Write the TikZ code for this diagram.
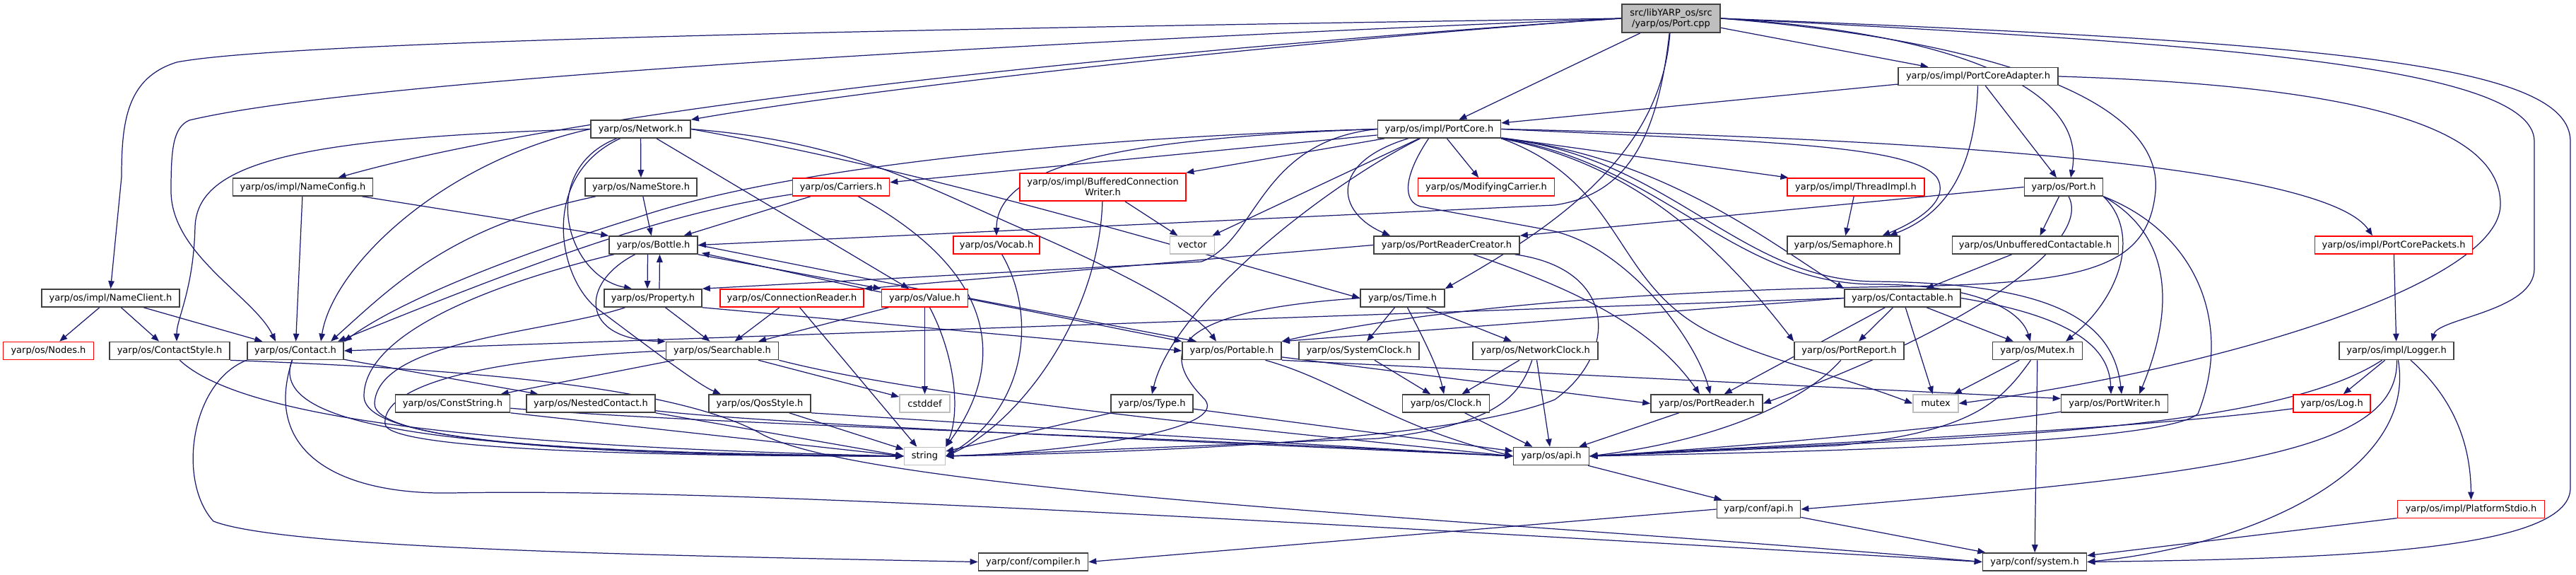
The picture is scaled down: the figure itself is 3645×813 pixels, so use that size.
\documentclass[tikz,border=0pt]{standalone}
\usepackage{fontspec}
\setmainfont{DejaVu Sans}
\usetikzlibrary{arrows.meta}

\definecolor{edgeblue}{HTML}{191970}
\definecolor{hdrgray}{HTML}{BFBFBF}

\pgfdeclarelayer{bg}
\pgfsetlayers{bg,main}

\tikzset{
  hdr/.style={draw=black!75, fill=white, line width=0.45pt, minimum height=0.25cm,
              inner sep=0pt, align=center, font=\fontsize{3.7}{4.3}\selectfont},
  trunc/.style={hdr, draw=red},
  syshdr/.style={hdr, draw=hdrgray},
  dep/.style={draw=edgeblue, line width=0.35pt, -{Triangle[length=0.11cm,width=0.085cm]}},
}

\begin{document}
\begin{tikzpicture}[x=0.01cm, y=-0.01cm]
    \useasboundingbox (0,0) rectangle (3645,813);

    % Fichier source
    \node[hdr, fill=hdrgray, minimum width=1.39cm, minimum height=0.40cm] (cpp) at (2364.5,26) {src/libYARP\_os/src\\/yarp/os/Port.cpp};

    % Rangs 1-2
    \node[hdr, minimum width=2.26cm] (pca) at (2799,108) {yarp/os/impl/PortCoreAdapter.h};
    \node[hdr, minimum width=1.41cm] (network) at (906.5,182.5) {yarp/os/Network.h};
    \node[hdr, minimum width=1.74cm] (pcore) at (2036.5,182.5) {yarp/os/impl/PortCore.h};

    % Rang 3
    \node[hdr, minimum width=1.98cm] (nconfig) at (428.5,264.5) {yarp/os/impl/NameConfig.h};
    \node[hdr, minimum width=1.58cm] (nstore) at (907,264.5) {yarp/os/NameStore.h};
    \node[trunc, minimum width=1.37cm] (carriers) at (1190,264.5) {yarp/os/Carriers.h};
    \node[trunc, minimum width=2.35cm, minimum height=0.39cm] (bcw) at (1560.5,264.5) {yarp/os/impl/BufferedConnection\\Writer.h};
    \node[trunc, minimum width=1.93cm] (modcarrier) at (2103,264.5) {yarp/os/ModifyingCarrier.h};
    \node[trunc, minimum width=1.94cm] (threadimpl) at (2626,264.5) {yarp/os/impl/ThreadImpl.h};
    \node[hdr, minimum width=1.11cm] (port) at (2920,264.5) {yarp/os/Port.h};

    % Rang 4
    \node[hdr, minimum width=1.25cm] (bottle) at (924.5,346.5) {yarp/os/Bottle.h};
    \node[trunc, minimum width=1.22cm] (vocab) at (1410,346.5) {yarp/os/Vocab.h};
    \node[syshdr, minimum width=0.63cm] (vector) at (1687,346.5) {vector};
    \node[hdr, minimum width=2.06cm] (prcreator) at (2047,346.5) {yarp/os/PortReaderCreator.h};
    \node[hdr, minimum width=1.59cm] (semaphore) at (2608.5,346.5) {yarp/os/Semaphore.h};
    \node[hdr, minimum width=2.35cm] (unbuf) at (2880,346.5) {yarp/os/UnbufferedContactable.h};
    \node[trunc, minimum width=2.23cm] (packets) at (3387,346.5) {yarp/os/impl/PortCorePackets.h};

    % Rang 5
    \node[hdr, minimum width=1.95cm] (nclient) at (156.5,421.5) {yarp/os/impl/NameClient.h};
    \node[hdr, minimum width=1.38cm] (property) at (924,421.5) {yarp/os/Property.h};
    \node[trunc, minimum width=2.03cm] (connreader) at (1120.5,421.5) {yarp/os/ConnectionReader.h};
    \node[trunc, minimum width=1.22cm] (value) at (1308.5,421.5) {yarp/os/Value.h};
    \node[hdr, minimum width=1.19cm] (time) at (1984.5,421.5) {yarp/os/Time.h};
    \node[hdr, minimum width=1.64cm] (contactable) at (2692,421.5) {yarp/os/Contactable.h};

    % Rang 6
    \node[trunc, minimum width=1.28cm] (nodes) at (68.5,496) {yarp/os/Nodes.h};
    \node[hdr, minimum width=1.70cm] (cstyle) at (240,496) {yarp/os/ContactStyle.h};
    \node[hdr, minimum width=1.36cm] (contact) at (418,496) {yarp/os/Contact.h};
    \node[hdr, minimum width=1.59cm] (searchable) at (1022,496) {yarp/os/Searchable.h};
    \node[hdr, minimum width=1.40cm] (portable) at (1743,496) {yarp/os/Portable.h};
    \node[hdr, minimum width=1.70cm] (sysclock) at (1923,496) {yarp/os/SystemClock.h};
    \node[hdr, minimum width=1.77cm] (netclock) at (2172.5,496) {yarp/os/NetworkClock.h};
    \node[hdr, minimum width=1.55cm] (portreport) at (2616.5,496) {yarp/os/PortReport.h};
    \node[hdr, minimum width=1.27cm] (mutexh) at (2883,496) {yarp/os/Mutex.h};
    \node[hdr, minimum width=1.62cm] (logger) at (3391,496) {yarp/os/impl/Logger.h};

    % Rang 7
    \node[hdr, minimum width=1.62cm] (conststring) at (640.5,570.5) {yarp/os/ConstString.h};
    \node[hdr, minimum width=1.82cm] (nested) at (836,570.5) {yarp/os/NestedContact.h};
    \node[hdr, minimum width=1.44cm] (qos) at (1075,570.5) {yarp/os/QosStyle.h};
    \node[syshdr, minimum width=0.71cm] (cstddef) at (1308.5,570.5) {cstddef};
    \node[hdr, minimum width=1.16cm] (type) at (1630,570.5) {yarp/os/Type.h};
    \node[hdr, minimum width=1.23cm] (clock) at (2046,570.5) {yarp/os/Clock.h};
    \node[hdr, minimum width=1.58cm] (preader) at (2415,570.5) {yarp/os/PortReader.h};
    \node[syshdr, minimum width=0.64cm] (mutex) at (2739,570.5) {mutex};
    \node[hdr, minimum width=1.51cm] (pwriter) at (2992,570.5) {yarp/os/PortWriter.h};
    \node[trunc, minimum width=1.09cm] (log) at (3299.5,570.5) {yarp/os/Log.h};

    % Rangs 8-10
    \node[syshdr, minimum width=0.58cm] (string) at (1308.5,645) {string};
    \node[hdr, minimum width=1.07cm] (osapi) at (2195,645) {yarp/os/api.h};
    \node[hdr, minimum width=1.18cm] (confapi) at (2488.5,720) {yarp/conf/api.h};
    \node[trunc, minimum width=2.08cm] (stdio) at (3496.5,720) {yarp/os/impl/PlatformStdio.h};
    \node[hdr, minimum width=1.55cm] (compiler) at (1462,794.5) {yarp/conf/compiler.h};
    \node[hdr, minimum width=1.47cm] (system) at (2879,794.5) {yarp/conf/system.h};

    \begin{pgfonlayer}{bg}
    % Port.cpp
    \draw[dep] (cpp.west) .. controls (1500,38) and (420,55) .. (250,88) .. controls (180,110) and (172,170) .. (172,250) -- (nclient.north);
    \draw[dep] (cpp.west) .. controls (1500,58) and (520,110) .. (268,170) .. controls (245,180) and (242,210) .. (242,270) .. controls (242,360) and (360,420) .. ([xshift=-0.28cm]contact.north);
    \draw[dep] (cpp.west) .. controls (1500,80) and (800,160) .. ([xshift=0.5cm]nconfig.north);
    \draw[dep] (cpp.west) .. controls (1800,60) and (1200,130) .. (network.north east);
    \draw[dep] (cpp) -- (pcore);
    \draw[dep] (cpp) -- (pca);
    \draw[dep] (cpp.east) .. controls (2750,45) and (2955,120) .. ([xshift=0.1cm]port.north);
    \draw[dep] (cpp) .. controls (2345,200) and (2300,275) .. (2200,290) -- (bottle.east);
    \draw[dep] (cpp) .. controls (2350,220) and (2200,320) .. (time.north east);
    \draw[dep] (cpp.east) .. controls (3100,60) and (3586,90) .. (3586,200) -- (3586,380) .. controls (3586,440) and (3450,450) .. ([xshift=0.5cm]logger.north);
    \draw[dep] (cpp.east) .. controls (3300,60) and (3637,90) .. (3637,200) -- (3637,690) .. controls (3637,780) and (3300,790) .. (system.east);
    \draw[dep] (cpp.east) .. controls (2850,60) and (3060,150) .. (3050,270) .. controls (3040,380) and (2950,400) .. (2700,405) .. controls (2300,410) and (2000,440) .. (portable.north east);

    % PortCoreAdapter.h
    \draw[dep] (pca) -- (pcore);
    \draw[dep] (pca) -- ([xshift=-0.1cm]port.north);
    \draw[dep] (pca) .. controls (2795,230) and (2760,300) .. ([xshift=0.65cm]semaphore.north);
    \draw[dep] (pca.east) .. controls (3300,120) and (3540,170) .. (3538,290) .. controls (3536,400) and (3150,520) .. (mutex.east);

    % PortCore.h
    \draw[dep] (pcore) -- (carriers);
    \draw[dep] (pcore.west) .. controls (1500,195) and (1100,240) .. (900,308) .. controls (700,370) and (560,430) .. (contact.north east);
    \draw[dep] (pcore) -- (bcw);
    \draw[dep] (pcore.west) .. controls (1600,195) and (1410,230) .. (vocab);
    \draw[dep] (pcore) -- (vector);
    \draw[dep] (pcore) -- (modcarrier);
    \draw[dep] (pcore) -- (threadimpl);
    \draw[dep] (pcore.east) .. controls (2500,200) and (2700,205) .. (2740,250) .. controls (2760,280) and (2720,310) .. ([xshift=0.55cm]semaphore.north);
    \draw[dep] (pcore.east) .. controls (2900,200) and (3300,250) .. ([xshift=-0.3cm]packets.north);
    \draw[dep] (pcore) .. controls (1880,230) and (1890,300) .. ([xshift=-0.8cm]prcreator.north);
    \draw[dep] (pcore) .. controls (1880,260) and (1660,430) .. (type.north);
    \draw[dep] (pcore.west) .. controls (1780,200) and (1780,340) .. (1700,370) -- (property.north east);
    \draw[dep] ([xshift=-0.15cm]pcore.south) .. controls (1985,250) and (1985,285) .. (2010,292) -- (2190,325) .. controls (2300,345) and (2400,480) .. ([xshift=0.05cm]preader.north);
    \draw[dep] (pcore.south east) .. controls (2300,230) and (2420,330) .. (portreport.north west);
    \draw[dep] (pcore.south east) .. controls (2350,220) and (2500,340) .. (contactable.north west);
    \draw[dep] (pcore.south east) .. controls (2350,230) and (2450,400) .. (2650,402) .. controls (2800,402) and (2860,440) .. ([xshift=-0.1cm]mutexh.north);
    \draw[dep] (pcore.south east) .. controls (2360,220) and (2460,395) .. (2650,398) .. controls (2900,400) and (2990,450) .. ([xshift=0.1cm]pwriter.north);
    \draw[dep] (pcore.south east) .. controls (2300,260) and (2280,400) .. (2420,470) .. controls (2500,510) and (2600,530) .. (mutex.west);

    % PortReaderCreator.h, Port.h
    \draw[dep] (prcreator.west) -- (connreader.north east);
    \draw[dep] (prcreator) .. controls (2200,400) and (2330,450) .. ([xshift=-0.1cm]preader.north);
    \draw[dep] (prcreator) .. controls (2290,380) and (2290,500) .. (2200,565) .. controls (2050,625) and (1600,640) .. (string.east);
    \draw[dep] (port.west) -- (prcreator.north east);
    \draw[dep] (port) -- (unbuf);
    \draw[dep] (port.south east) .. controls (3030,330) and (3000,420) .. ([xshift=0.4cm]mutexh.north);
    \draw[dep] (port.south east) .. controls (3070,330) and (3080,430) .. ([xshift=0.35cm]pwriter.north);
    \draw[dep] (port.south east) .. controls (3110,330) and (3160,460) .. (3110,585) .. controls (3060,630) and (2500,640) .. (osapi.east);
    \draw[dep] (port) .. controls (2960,340) and (2800,460) .. (preader.east);

    % NameClient.h, Network.h, NameConfig.h, NameStore.h
    \draw[dep] (nclient) -- (nodes);
    \draw[dep] (nclient) -- (cstyle);
    \draw[dep] (nclient) -- (contact);
    \draw[dep] (network) -- (nstore);
    \draw[dep] (network.west) .. controls (620,230) and (470,380) .. ([xshift=0.36cm]contact.north);
    \draw[dep] (network.west) .. controls (420,195) and (280,230) .. (276,320) .. controls (274,410) and (250,450) .. ([xshift=0.1cm]cstyle.north);
    \draw[dep] (network) .. controls (760,240) and (800,390) .. ([xshift=-0.3cm]property.north);
    \draw[dep] (network) .. controls (760,250) and (790,400) .. (850,440) .. controls (930,500) and (990,545) .. ([xshift=-0.55cm]qos.north);
    \draw[dep] (network) -- (value);
    \draw[dep] (network.east) .. controls (1200,200) and (1300,260) .. (1450,325) .. controls (1600,390) and (1690,440) .. ([xshift=-0.22cm]portable.north);
    \draw[dep] (network.east) .. controls (1300,240) and (1600,330) .. (time.west);
    \draw[dep] (nconfig) -- (contact);
    \draw[dep] (nconfig) -- (bottle.north west);
    \draw[dep] (nstore) .. controls (640,320) and (560,400) .. ([xshift=0.5cm]contact.north);
    \draw[dep] (nstore) -- (bottle);

    % Carriers.h, BufferedConnectionWriter.h, ...
    \draw[dep] (carriers) -- (bottle);
    \draw[dep] (carriers) .. controls (950,300) and (780,360) .. ([xshift=0.6cm]contact.north);
    \draw[dep] (carriers) .. controls (1420,390) and (1420,520) .. (string.north east);
    \draw[dep] (bcw) -- (vector);
    \draw[dep] (bcw) .. controls (1555,450) and (1440,600) .. (string.east);
    \draw[dep] (vocab) .. controls (1470,450) and (1450,580) .. (string.east);
    \draw[dep] (threadimpl) -- (semaphore);
    \draw[dep] (unbuf) -- (contactable);
    \draw[dep] (packets) -- (logger);

    % Bottle.h, Property.h, Value.h, ConnectionReader.h
    \draw[dep] ([xshift=-0.08cm]bottle.south) -- ([xshift=-0.08cm]property.north);
    \draw[dep] ([xshift=0.09cm]property.north) -- ([xshift=0.09cm]bottle.south);
    \draw[dep] (bottle.south east) -- (value.north west);
    \draw[dep] ([yshift=-0.05cm]value.north west) -- ([xshift=0.05cm,yshift=0.02cm]bottle.south east);
    \draw[dep] (bottle) .. controls (820,400) and (820,480) .. (searchable.north west);
    \draw[dep] (bottle.east) -- (portable.north west);
    \draw[dep] (bottle) .. controls (700,400) and (515,470) .. (515,560) .. controls (515,625) and (800,640) .. (string.west);
    \draw[dep] (property) -- (searchable);
    \draw[dep] (property.south east) -- (portable.west);
    \draw[dep] (property) .. controls (780,470) and (535,480) .. (530,570) .. controls (527,625) and (850,645) .. (string.west);
    \draw[dep] (connreader) -- (searchable);
    \draw[dep] (connreader) -- (string);
    \draw[dep] (value) -- (searchable);
    \draw[dep] (value) -- (cstddef);
    \draw[dep] (value) .. controls (1350,500) and (1360,580) .. (string.north east);
    \draw[dep] (value.east) -- ([xshift=-0.5cm]portable.north);

    % Time.h, Contactable.h
    \draw[dep] (time) -- (sysclock);
    \draw[dep] (time) .. controls (2015,480) and (2035,520) .. (clock);
    \draw[dep] (time) -- (netclock);
    \draw[dep] (time.west) .. controls (1650,440) and (1640,500) .. (1705,565) .. controls (1740,610) and (1500,640) .. (string.east);
    \draw[dep] (contactable.west) -- (portable.north east);
    \draw[dep] (contactable.west) -- (contact.east);
    \draw[dep] (contactable) -- (preader);
    \draw[dep] (contactable) -- (portreport);
    \draw[dep] (contactable) -- (mutexh);
    \draw[dep] (contactable) -- (mutex);
    \draw[dep] (contactable.east) .. controls (2950,450) and (2985,500) .. ([xshift=-0.05cm]pwriter.north);

    % Contact.h, ContactStyle.h
    \draw[dep] (contact) -- (nested);
    \draw[dep] (contact) .. controls (380,600) and (600,640) .. (string.west);
    \draw[dep] (contact) .. controls (370,640) and (480,700) .. (640,697) .. controls (1000,690) and (1700,730) .. (system.west);
    \draw[dep] (contact.south west) .. controls (270,540) and (250,680) .. (302,737) .. controls (400,775) and (900,785) .. (compiler.west);
    \draw[dep] (cstyle.south east) .. controls (600,520) and (950,540) .. (1080,615) .. controls (1250,700) and (2200,740) .. (system.west);
    \draw[dep] (cstyle) .. controls (330,580) and (600,630) .. (string.west);

    % Searchable.h et rang 7
    \draw[dep] (searchable) -- (conststring);
    \draw[dep] (searchable) -- (cstddef);
    \draw[dep] (searchable.west) .. controls (620,510) and (540,560) .. (545,600) .. controls (550,635) and (900,645) .. (string.west);
    \draw[dep] (searchable.south east) .. controls (1300,560) and (1700,600) .. (osapi.west);
    \draw[dep] (conststring.south east) -- (string.west);
    \draw[dep] (conststring) .. controls (1000,600) and (1600,615) .. (osapi.west);
    \draw[dep] (nested.south east) -- (string.west);
    \draw[dep] (nested) .. controls (1100,600) and (1600,620) .. (osapi.west);
    \draw[dep] (qos) -- (string);
    \draw[dep] (qos.south east) .. controls (1400,600) and (1700,620) .. (osapi.west);
    \draw[dep] (type) -- (string);
    \draw[dep] (type) -- (osapi);
    \draw[dep] (portable) -- (preader.west);
    \draw[dep] (portable.south east) -- ([yshift=0.07cm]pwriter.west);
    \draw[dep] (portable) .. controls (1900,540) and (1960,600) .. (osapi.west);
    \draw[dep] (sysclock) -- (clock);
    \draw[dep] (netclock) -- (clock);
    \draw[dep] (netclock) -- (osapi);
    \draw[dep] (netclock) .. controls (2150,560) and (2120,600) .. (1950,620) -- (string.east);
    \draw[dep] (clock) -- (osapi);
    \draw[dep] (preader) -- (osapi);
    \draw[dep] (portreport) .. controls (2560,560) and (2450,620) .. (osapi.east);
    \draw[dep] (mutexh) -- (mutex);
    \draw[dep] (mutexh) .. controls (2830,570) and (2790,610) .. (2600,630) -- (osapi.east);
    \draw[dep] (mutexh) -- (system);
    \draw[dep] (pwriter) .. controls (2800,600) and (2500,630) .. (osapi.east);

    % Logger.h, Log.h
    \draw[dep] (log) .. controls (3000,610) and (2500,630) .. (osapi.east);
    \draw[dep] (logger) .. controls (3200,620) and (2700,620) .. (osapi.east);
    \draw[dep] (logger) -- (log);
    \draw[dep] ([xshift=0.2cm]logger.south) .. controls (3480,570) and (3496,640) .. (stdio.north);
    \draw[dep] (logger) .. controls (3395,640) and (3150,670) .. (confapi.east);
    \draw[dep] (logger) .. controls (3420,660) and (3200,770) .. (system.east);
    \draw[dep] (stdio) -- (system);

    % api.h
    \draw[dep] (osapi) -- (confapi);
    \draw[dep] (confapi.west) -- (compiler.east);
    \draw[dep] (confapi) -- (system);
    \end{pgfonlayer}

\end{tikzpicture}
\end{document}
